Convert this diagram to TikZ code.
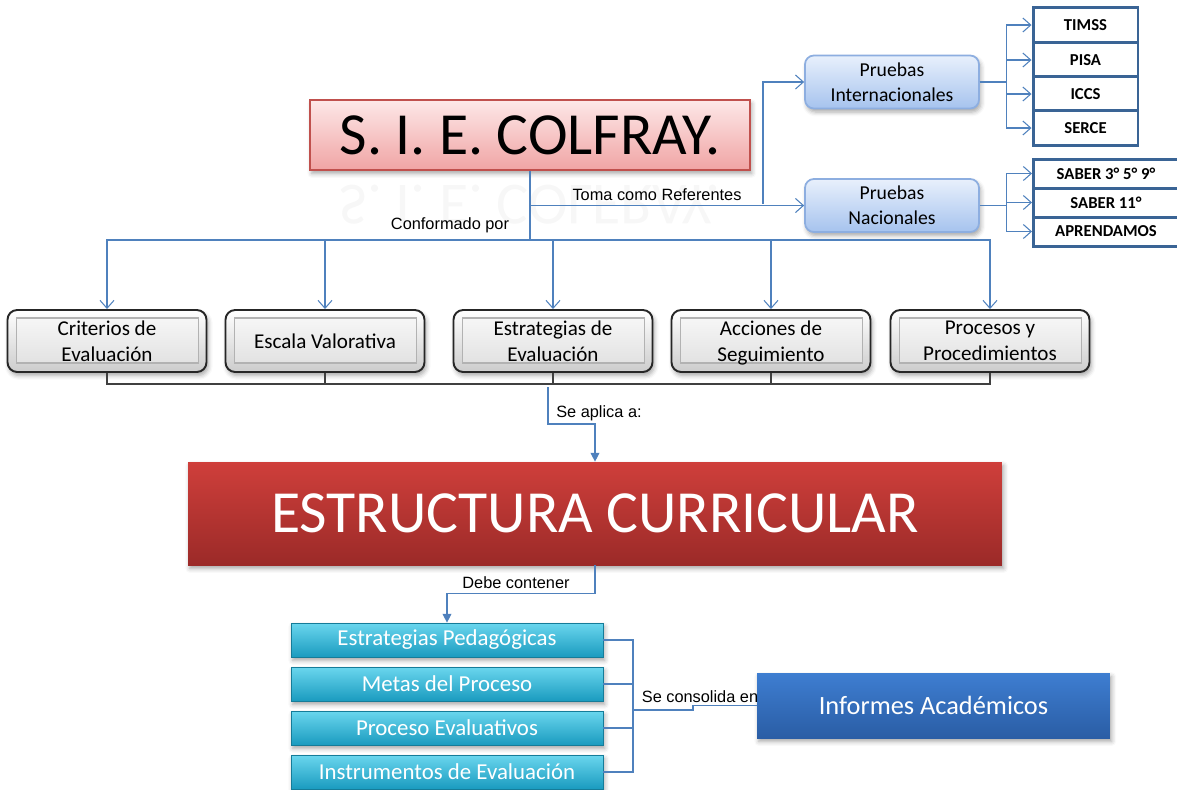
\documentclass[tikz,border=0pt]{standalone}
\usepackage{fontspec}
\setmainfont{Carlito}
\newfontfamily\arialfont{Liberation Sans}
\usepackage{xcolor}
\usetikzlibrary{arrows.meta,shadows.blur}
\definecolor{linkblue}{HTML}{4F81BD}
\definecolor{rimred}{HTML}{C0504D}
\definecolor{pinktop}{HTML}{FDE8E8}
\definecolor{pinkbot}{HTML}{F0A4A4}
\definecolor{redtop}{HTML}{CF3F3B}
\definecolor{redbot}{HTML}{9B2A28}
\definecolor{skytop}{HTML}{E8F0FC}
\definecolor{skybot}{HTML}{A6C3EE}
\definecolor{skyrim}{HTML}{8DAEE0}
\definecolor{navyrim}{HTML}{3A6495}
\definecolor{cyantop}{HTML}{6AD6EE}
\definecolor{cyanbot}{HTML}{1A9BBF}
\definecolor{bluetop}{HTML}{3E7ED1}
\definecolor{bluebot}{HTML}{2A5DA5}
\tikzset{
	conn/.style={draw=linkblue, line width=0.6pt},
	darkconn/.style={draw=black!75, line width=0.7pt},
	barb/.style={-{Straight Barb[length=4.5pt,width=8pt]}},
	filltip/.style={-{Triangle[length=5pt,width=5pt]}},
	tag/.style={font=\arialfont\fontsize{9.3}{11}\selectfont, inner sep=0pt},
	softshadow/.style={blur shadow={shadow xshift=1pt, shadow yshift=-2pt, shadow blur radius=2.5pt, shadow opacity=35}},
	titlebox/.style={draw=rimred, line width=1.4pt, top color=pinktop, bottom color=pinkbot,
			minimum width=8.8cm, minimum height=1.4cm, softshadow,
			font=\fontsize{34}{40}\selectfont},
	testgroup/.style={rounded corners=5pt, draw=skyrim, line width=1pt, top color=skytop, bottom color=skybot,
			minimum width=3.48cm, minimum height=1.06cm, align=center,
			font=\fontsize{11.2}{14}\selectfont, softshadow},
	testbox/.style={draw=navyrim, line width=1.7pt, fill=white, minimum width=2.1cm, minimum height=0.69cm,
			font=\bfseries\fontsize{9.5}{11}\selectfont},
	natbox/.style={testbox, minimum width=2.9cm, minimum height=0.58cm},
	part/.style={rounded corners=5.5pt, draw=black!85, line width=1.1pt, top color=white, bottom color=black!20,
			minimum width=3.98cm, minimum height=1.24cm, align=center, text depth=0pt,
			font=\fontsize{12}{14.7}\selectfont, softshadow,
			path picture={\shade[sharp corners, top color=black!2, bottom color=black!13, draw=black!30, line width=0.6pt]
					([shift={(0.18cm,-0.16cm)}]path picture bounding box.north west) rectangle
					([shift={(-0.16cm,0.18cm)}]path picture bounding box.south east);}},
	bigbox/.style={top color=redtop, bottom color=redbot, minimum width=16.28cm, minimum height=2.06cm,
			text=white, font=\fontsize{34}{40}\selectfont, softshadow},
	itembox/.style={draw=cyanbot!80!black, line width=0.4pt, top color=cyantop, bottom color=cyanbot,
			minimum width=6.24cm, minimum height=0.68cm, text=white,
			font=\fontsize{13}{15}\selectfont, softshadow},
	reportbox/.style={top color=bluetop, bottom color=bluebot, minimum width=7.06cm, minimum height=1.3cm,
			text=white, font=\fontsize{15}{18}\selectfont, softshadow}
}

\begin{document}
\begin{tikzpicture}[x=0.02cm,y=-0.02cm]
	\useasboundingbox (0,0) rectangle (1177,789);

	% top of the map
	\node[text=black!3, yscale=-1, font=\fontsize{34}{40}\selectfont] (sieref) at (530,205) {S. I. E. COLFRAY.};
	\node[titlebox] (sie) at (530,135) {S. I. E. COLFRAY.};
	\node[testgroup] (pint) at (892,82) {Pruebas\\Internacionales};
	\node[testgroup] (pnac) at (892,205.5) {Pruebas\\Nacionales};
	\foreach \n/\t/\y in {timss/TIMSS/25, pisa/PISA/60, iccs/ICCS/94, serce/SERCE/128}
		\node[testbox] (\n) at (1085.5,\y) {\t};
	\foreach \n/\t/\y in {sab/SABER 3° 5° 9°/173.5, once/SABER 11°/202.5, apr/APRENDAMOS/231.5}
		\node[natbox] (\n) at (1106,\y) {\t};

	\coordinate (ref) at (763,204);
	\coordinate (bar) at (530,240);
	\draw[conn,barb] (sie.south) |- (pnac.west);
	\draw[conn,barb] (ref) |- (pint.west);
	\node[tag] (toma) at (657,195) {Toma como Referentes};
	\node[tag] (conf) at (450,225) {Conformado por};
	\foreach \n in {timss,pisa,iccs,serce}
		\draw[conn,barb] (pint.east) -- ++(27,0) |- (\n.west);
	\foreach \n in {sab,once,apr}
		\draw[conn,barb] (pnac.east) -- ++(27,0) |- (\n.west);

	% components
	\node[part] (crit) at (107,341) {Criterios de\\Evaluación};
	\node[part] (esc) at (325,341) {Escala Valorativa};
	\node[part] (estr) at (553,341) {Estrategias de\\Evaluación};
	\node[part] (acc) at (771,341) {Acciones de\\Seguimiento};
	\node[part] (proc) at (990,341) {Procesos y\\Procedimientos};
	\foreach \n in {crit,esc,estr,acc,proc}
		\draw[conn,barb] (sie.south) -- (bar) -| (\n.north);

	\coordinate (low) at (553,384);
	\foreach \n in {crit,esc,estr,acc,proc}
		\draw[darkconn] (\n.south) |- (low);

	% curriculum
	\node[bigbox] (curr) at (595,513.5) {ESTRUCTURA CURRICULAR};
	\coordinate (apl) at (548,387);
	\draw[conn,filltip] (apl) -- ++(0,37) -| (curr.north);
	\node[tag] (aplica) at (599,413) {Se aplica a:};

	\node[itembox] (ped) at (447,640) {Estrategias Pedagógicas};
	\node[itembox] (metas) at (447,684) {Metas del Proceso};
	\node[itembox] (eval) at (447,728) {Proceso Evaluativos};
	\node[itembox] (instr) at (447,772) {Instrumentos de Evaluación};
	\draw[conn,filltip] (curr.south) -- ++(0,28) -| (ped.north);
	\node[tag] (debe) at (516,583) {Debe contener};

	\node[reportbox] (inf) at (933.5,705.5) {Informes Académicos};
	\coordinate (brk) at (633,710);
	\foreach \n in {ped,metas,eval,instr}
		\draw[conn] (\n.east) -| (brk);
	\draw[conn] (brk) -- ++(60,0) |- (inf.west);
	\node[tag] (cons) at (700,697) {Se consolida en};
\end{tikzpicture}
\end{document}
